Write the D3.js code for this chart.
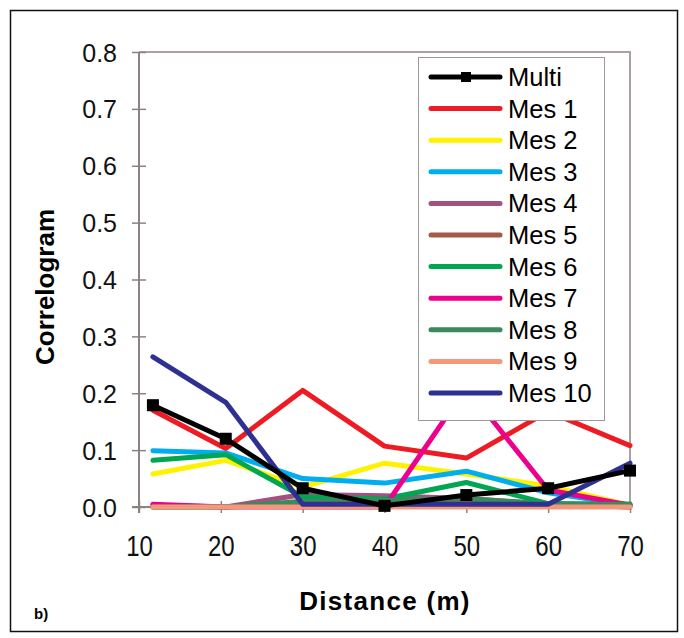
<!DOCTYPE html>
<html>
<head>
<meta charset="utf-8">
<script src="https://cdn.jsdelivr.net/npm/d3@7"></script>
<style>
body { margin: 0; background: #fff; }
text { font-family: "Liberation Sans", Arial, sans-serif; }
</style>
</head>
<body>
<div id="chart"></div>
<script>
// lag distances (m) and correlogram values per series
var distances = [11.7, 20.6, 30, 40, 50, 60, 70];
var seriesNames = ["Multi", "Mes 1", "Mes 2", "Mes 3", "Mes 4", "Mes 5", "Mes 6", "Mes 7", "Mes 8", "Mes 9", "Mes 10"];
var seriesColors = ["#000000", "#ed1c24", "#fff200", "#00aeef", "#a3527f", "#a65a46", "#00a651", "#ec008c", "#3a8a5e", "#f7977a", "#2e3192"];

var multi = [0.179, 0.120, 0.033, 0.002, 0.021, 0.033, 0.064];
var mes1  = [0.170, 0.103, 0.205, 0.107, 0.086, 0.168, 0.108];
var mes2  = [0.058, 0.082, 0.035, 0.077, 0.058, 0.037, 0.003];
var mes3  = [0.099, 0.095, 0.050, 0.042, 0.063, 0.025, 0.003];
var mes4  = [0.003, 0.000, 0.022, 0.020, 0.015, 0.005, 0.000];
var mes5  = [0.000, 0.000, 0.005, 0.010, 0.012, 0.005, 0.000];
var mes6  = [0.082, 0.092, 0.018, 0.014, 0.043, 0.006, 0.005];
var mes7  = [0.005, 0.000, 0.000, 0.000, 0.210, 0.030, 0.003];
var mes8  = [0.000, 0.000, 0.010, 0.012, 0.015, 0.005, 0.005];
var mes9  = [0.000, 0.000, 0.000, 0.000, 0.000, 0.000, 0.000];
var mes10 = [0.264, 0.184, 0.005, 0.005, 0.005, 0.005, 0.077];

var xTicks = [10, 20, 30, 40, 50, 60, 70];
var yTicks = [0, 0.1, 0.2, 0.3, 0.4, 0.5, 0.6, 0.7, 0.8];

var allSeries = [multi, mes1, mes2, mes3, mes4, mes5, mes6, mes7, mes8, mes9, mes10];

var width = 684,
height = 638;

// plot area edges
var pLeft = 139, pRight = 630, pTop = 52, pBottom = 507;

var svg = d3.select("#chart").append("svg")
.attr("width", width)
.attr("height", height);

// outer frame
svg.append("rect")
.attr("x", 10.5).attr("y", 10.5)
.attr("width", 667).attr("height", 621)
.attr("fill", "none")
.attr("stroke", "#111")
.attr("stroke-width", 1.5);

var x = d3.scaleLinear().domain([10, 70]).range([pLeft, pRight]);
var y = d3.scaleLinear().domain([0, 0.8]).range([pBottom, pTop]);

// plot area border (top and right)
svg.append("path")
.attr("d", "M" + pLeft + "," + pTop + "H" + pRight + "V" + pBottom)
.attr("fill", "none")
.attr("stroke", "#aaa2a2")
.attr("stroke-width", 2);

var yAxis = svg.append("g")
.attr("transform", "translate(" + pLeft + ",0)")
.call(d3.axisLeft(y).tickValues(yTicks).tickFormat(d3.format(".1f")).tickSize(7).tickPadding(15));
yAxis.select(".domain").attr("stroke", "#8c8282").attr("stroke-width", 2).attr("d", "M0," + pTop + "V" + (pBottom + 6));
yAxis.selectAll(".tick line").attr("stroke", "#8c8282").attr("stroke-width", 1.5).attr("x1", 7);
yAxis.selectAll(".tick text")
.attr("font-size", 25)
.attr("fill", "#111")
.attr("dy", "0.36em")
.style("font-family", "'Liberation Sans', Arial, sans-serif");

var xAxis = svg.append("g")
.attr("transform", "translate(0," + pBottom + ")")
.call(d3.axisBottom(x).tickValues(xTicks).tickSize(6).tickPadding(0));
xAxis.select(".domain").attr("stroke", "#8c8282").attr("stroke-width", 2).attr("d", "M" + (pLeft - 7) + ",0H" + pRight);
xAxis.selectAll(".tick line").attr("stroke", "#8c8282").attr("stroke-width", 1.5).attr("y1", -6);
// labels are drawn a bit taller than wide
xAxis.selectAll(".tick text")
.attr("font-size", 24)
.attr("fill", "#111")
.attr("y", 49 / 1.2)
.attr("dy", 0)
.attr("transform", "scale(1,1.2)")
.style("font-family", "'Liberation Sans', Arial, sans-serif");

var line = d3.line()
.x(function(d, i) { return x(distances[i]); })
.y(function(d) { return y(d); });

// Mes series first, Multi on top with its square markers
var order = [1, 2, 3, 4, 5, 6, 7, 8, 9, 10, 0];
order.forEach(function(k) {
  svg.append("path")
  .datum(allSeries[k])
  .attr("d", line)
  .attr("fill", "none")
  .attr("stroke", seriesColors[k])
  .attr("stroke-width", 5)
  .attr("stroke-linejoin", "round")
  .attr("stroke-linecap", "round");
});

svg.selectAll("rect.marker")
.data(multi)
.enter()
.append("rect")
.attr("class", "marker")
.attr("x", function(d, i) { return x(distances[i]) - 6; })
.attr("y", function(d) { return y(d) - 6; })
.attr("width", 12)
.attr("height", 12)
.attr("fill", "#000");

// legend
var legend = svg.append("g");
legend.append("rect")
.attr("x", 418.5).attr("y", 57.5)
.attr("width", 186).attr("height", 363)
.attr("fill", "#fff")
.attr("stroke", "#999")
.attr("stroke-width", 1);

var rowY = d3.scaleLinear().domain([0, 10]).range([77, 393]);

seriesNames.forEach(function(name, i) {
  var cy = rowY(i);
  legend.append("line")
  .attr("x1", 431).attr("x2", 500)
  .attr("y1", cy).attr("y2", cy)
  .attr("stroke", seriesColors[i])
  .attr("stroke-width", 5)
  .attr("stroke-linecap", "round");
  if (i === 0) {
    legend.append("rect")
    .attr("x", 461).attr("y", cy - 5)
    .attr("width", 10).attr("height", 10)
    .attr("fill", "#000");
  }
  legend.append("text")
  .attr("x", 508)
  .attr("y", cy + 9)
  .attr("font-size", 25.5)
  .attr("fill", "#000")
  .text(name);
});

// axis titles
svg.append("text")
.attr("transform", "translate(54,287) rotate(-90)")
.attr("text-anchor", "middle")
.attr("font-size", 26)
.attr("font-weight", "bold")
.text("Correlogram");

svg.append("text")
.attr("x", 385)
.attr("y", 610)
.attr("text-anchor", "middle")
.attr("font-size", 26)
.attr("font-weight", "bold")
.attr("letter-spacing", 1.3)
.text("Distance (m)");

svg.append("text")
.attr("x", 34)
.attr("y", 619)
.attr("font-size", 15)
.attr("font-weight", "bold")
.text("b)");
</script>
</body>
</html>
